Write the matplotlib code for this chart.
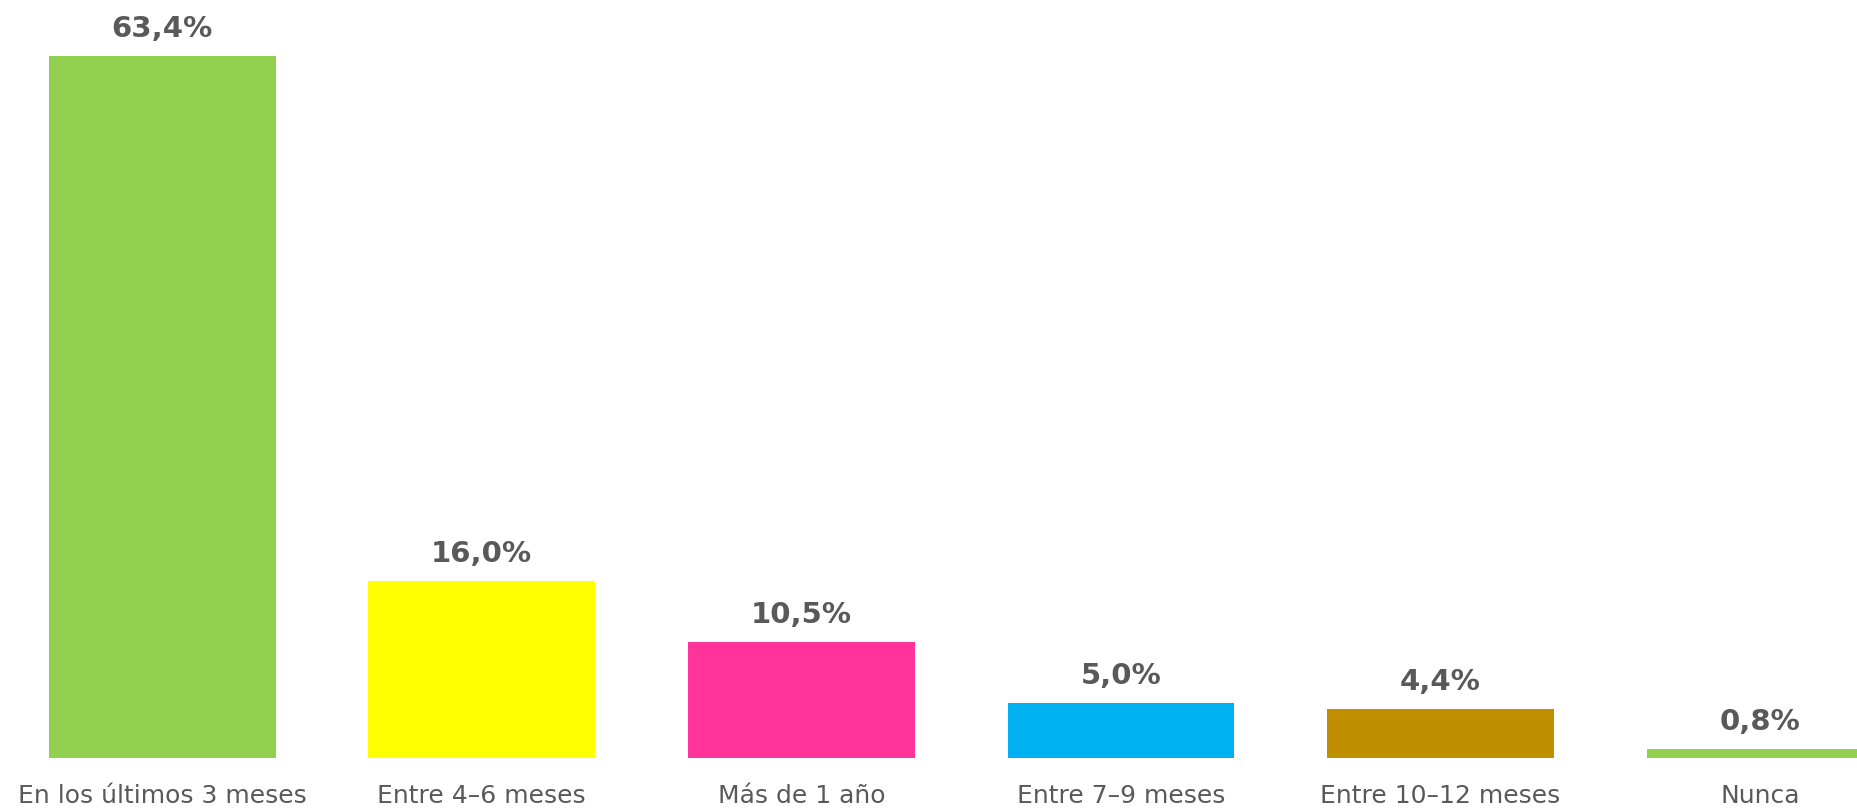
import matplotlib
matplotlib.use('Agg')
import matplotlib.pyplot as plt

categories = ['En los últimos 3 meses', 'Entre 4–6 meses', 'Más de 1 año',
              'Entre 7–9 meses', 'Entre 10–12 meses', 'Nunca']
values = [63.4, 16.0, 10.5, 5.0, 4.4, 0.8]
labels = ['63,4%', '16,0%', '10,5%', '5,0%', '4,4%', '0,8%']
colors = ['#92D050', '#FFFF00', '#FF3399', '#00B0F0', '#BF8F00', '#92D050']

text_color = '#595959'
plt.rcParams['font.family'] = ['DejaVu Sans']

fig = plt.figure(figsize=(18.57, 8.12), dpi=100)
ymax = 70
# axes bottom at 53 px from bottom, 702 px per 63.4 units
h_px = 702 / 63.4 * ymax
ax = fig.add_axes([0, 53 / 812, 1, h_px / 812])

x = list(range(len(categories)))
ax.bar(x, values, width=0.71, color=colors)
ax.set_xlim(-0.5075, 5.303)
ax.set_ylim(0, ymax)

for xi, v, lab in zip(x, values, labels):
    ax.annotate(lab, xy=(xi, v), xytext=(0, 10), textcoords='offset points',
                ha='center', va='bottom', fontsize=21, fontweight='bold',
                color=text_color)

ax.set_xticks(x)
ax.set_xticklabels(categories, fontsize=18, color=text_color)
ax.tick_params(axis='x', length=0, pad=18)
ax.set_yticks([])
for s in ax.spines.values():
    s.set_visible(False)

fig.savefig('out.png', dpi=100)
